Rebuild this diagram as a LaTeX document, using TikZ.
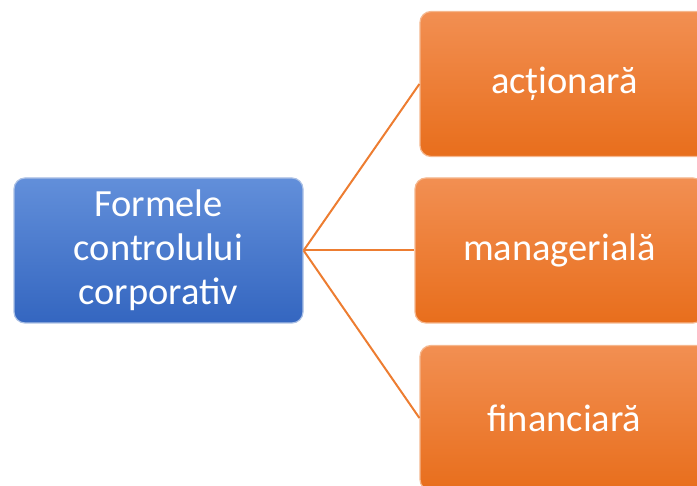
\documentclass[tikz,border=0pt]{standalone}
\usepackage{fontspec}
\setmainfont{Carlito}
\definecolor{formblue}{RGB}{68,114,196}
\definecolor{formblueTop}{RGB}{98,143,218}
\definecolor{formblueBot}{RGB}{52,102,192}
\definecolor{formorange}{RGB}{237,125,49}
\definecolor{formorangeTop}{RGB}{242,143,82}
\definecolor{formorangeBot}{RGB}{232,110,28}
\begin{document}
\begin{tikzpicture}[x=1pt,y=-1pt,
    rootbox/.style={rounded corners=11pt, minimum width=289pt, minimum height=145pt,
        inner sep=0pt, align=center, text=white, draw=formblue!45!white, line width=1.2pt,
        top color=formblueTop, bottom color=formblueBot,
        font=\fontsize{38.5}{44}\selectfont},
    leafbox/.style={rounded corners=11pt, minimum width=289pt, minimum height=145pt,
        inner sep=0pt, align=center, text=white, draw=formorange!55!white, line width=1.2pt,
        top color=formorangeTop, bottom color=formorangeBot,
        font=\fontsize{38.5}{44}\selectfont},
    link/.style={draw=formorange, line width=2pt}]
    \useasboundingbox (0,0) rectangle (697,486);
    \clip (0,0) rectangle (697,486);

    \node[rootbox] (forme) at (158.5,250.5) {Formele\\controlului\\corporativ};

    \node[leafbox] (actionara) at (564.5,84) {acționară};
    \node[leafbox] (manageriala) at (559.5,250.5) {managerială};
    \node[leafbox] (financiara) at (564.5,418) {financiară};

    \draw[link] (forme.east) -- (actionara.west);
    \draw[link] (forme.east) -- (manageriala.west);
    \draw[link] (forme.east) -- (financiara.west);
\end{tikzpicture}
\end{document}
